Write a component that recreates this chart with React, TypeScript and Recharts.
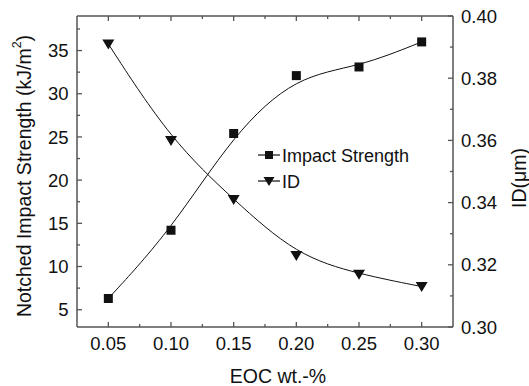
import React from "react";
import { ComposedChart, Line, XAxis, YAxis, Legend, Label } from "recharts";

// EOC content (wt.-%)
const eoc = [0.05, 0.1, 0.15, 0.2, 0.25, 0.3];
// notched impact strength (kJ/m2)
const impactStrength = [6.3, 14.2, 25.4, 32.1, 33.1, 36.0];
// ID (um)
const idMicron = [0.391, 0.36, 0.341, 0.323, 0.317, 0.313];

const xTicks = [0.05, 0.075, 0.1, 0.125, 0.15, 0.175, 0.2, 0.225, 0.25, 0.275, 0.3];
const xMajor = [0.05, 0.1, 0.15, 0.2, 0.25, 0.3];
const leftTicks = [5, 7.5, 10, 12.5, 15, 17.5, 20, 22.5, 25, 27.5, 30, 32.5, 35, 37.5];
const leftMajor = [5, 10, 15, 20, 25, 30, 35];
const rightTicks = [0.3, 0.31, 0.32, 0.33, 0.34, 0.35, 0.36, 0.37, 0.38, 0.39, 0.4];
const rightMajor = [0.3, 0.32, 0.34, 0.36, 0.38, 0.4];

const data = eoc.map((x, i) => ({
  eoc: x,
  impact: impactStrength[i],
  id: idMicron[i],
}));

const FONT = "'Liberation Sans', Arial, Helvetica, sans-serif";
const AXIS = "#555";
const INK = "#111";

const isMajor = (v: number, majors: number[]) =>
  majors.some((m) => Math.abs(m - v) < 1e-9);

const BottomTick = (props: any) => {
  const { x, y, payload } = props;
  const major = isMajor(payload.value, xMajor);
  return (
    <g>
      <line x1={x} x2={x} y1={y} y2={y - (major ? 5 : 3)} stroke={AXIS} strokeWidth={1.3} />
      {major && (
        <text x={x} y={y + 23} textAnchor="middle" fontSize={18.5} fontFamily={FONT} fill={INK}>
          {payload.value.toFixed(2)}
        </text>
      )}
    </g>
  );
};

const TopTick = (props: any) => {
  const { x, y, payload } = props;
  const major = isMajor(payload.value, xMajor);
  return <line x1={x} x2={x} y1={y} y2={y + (major ? 5 : 3)} stroke={AXIS} strokeWidth={1.3} />;
};

const LeftTick = (props: any) => {
  const { x, y, payload } = props;
  const major = isMajor(payload.value, leftMajor);
  return (
    <g>
      <line x1={x} x2={x + (major ? 5 : 3)} y1={y} y2={y} stroke={AXIS} strokeWidth={1.3} />
      {major && (
        <text x={x - 8.5} y={y + 6.6} textAnchor="end" fontSize={18.5} fontFamily={FONT} fill={INK}>
          {payload.value}
        </text>
      )}
    </g>
  );
};

const RightTick = (props: any) => {
  const { x, y, payload } = props;
  const major = isMajor(payload.value, rightMajor);
  return (
    <g>
      <line x1={x} x2={x - (major ? 5 : 3)} y1={y} y2={y} stroke={AXIS} strokeWidth={1.3} />
      {major && (
        <text x={x + 8} y={y + 6.6} textAnchor="start" fontSize={18.5} fontFamily={FONT} fill={INK}>
          {payload.value.toFixed(2)}
        </text>
      )}
    </g>
  );
};

const squareDot = (props: any) => {
  const { cx, cy, index } = props;
  return <rect key={`sq-${index}`} x={cx - 4.5} y={cy - 4.5} width={9} height={9} fill={INK} />;
};

const triangleDot = (props: any) => {
  const { cx, cy, index } = props;
  return (
    <polygon
      key={`tr-${index}`}
      points={`${cx - 6},${cy - 4.5} ${cx + 6},${cy - 4.5} ${cx},${cy + 5.5}`}
      fill={INK}
    />
  );
};

const LegendBox = () => (
  <svg width={190} height={56} style={{ display: "block" }}>
    <g>
      <line x1={2} x2={24} y1={12} y2={12} stroke={INK} strokeWidth={1.2} />
      <rect x={9} y={8} width={8} height={8} fill={INK} />
      <text x={26} y={18.5} fontSize={18} fontFamily={FONT} fill={INK}>
        Impact Strength
      </text>
    </g>
    <g>
      <line x1={2} x2={24} y1={38} y2={38} stroke={INK} strokeWidth={1.2} />
      <polygon points="7.5,34 18.5,34 13,43" fill={INK} />
      <text x={26} y={44.5} fontSize={18} fontFamily={FONT} fill={INK}>
        ID
      </text>
    </g>
  </svg>
);

export default function App() {
  return (
    <div style={{ position: "absolute", left: 0, top: 0 }}>
      <ComposedChart
        width={529}
        height={386}
        data={data}
        margin={{ top: 15, right: 0, bottom: 0, left: 0 }}
      >
        <XAxis
          xAxisId="bottom"
          dataKey="eoc"
          type="number"
          domain={[0.025, 0.325]}
          ticks={xTicks}
          interval={0}
          height={59}
          stroke={AXIS}
          strokeWidth={1.5}
          tickLine={false}
          tickSize={0}
          tickMargin={0}
          tick={<BottomTick />}
        >
          <Label
            content={() => (
              <text x={278} y={383} textAnchor="middle" fontSize={19.5} fontFamily={FONT} fill={INK}>
                EOC wt.-%
              </text>
            )}
          />
        </XAxis>
        <XAxis
          xAxisId="top"
          orientation="top"
          dataKey="eoc"
          type="number"
          domain={[0.025, 0.325]}
          ticks={xTicks}
          interval={0}
          height={1}
          stroke={AXIS}
          strokeWidth={1.5}
          tickLine={false}
          tickSize={0}
          tickMargin={0}
          tick={<TopTick />}
        />
        <YAxis
          yAxisId="left"
          type="number"
          domain={[3, 39]}
          ticks={leftTicks}
          interval={0}
          width={77}
          stroke={AXIS}
          strokeWidth={1.5}
          tickLine={false}
          tickSize={0}
          tickMargin={0}
          tick={<LeftTick />}
        >
          <Label
            content={() => (
              <text
                x={24}
                y={176}
                transform="rotate(-90 24 176)"
                textAnchor="middle"
                dominantBaseline="central"
                fontSize={19.5}
                fontFamily={FONT}
                fill={INK}
              >
                Notched Impact Strength  (kJ/m
                <tspan fontSize={12.5} dy={-7}>2</tspan>
                <tspan dy={7}>)</tspan>
              </text>
            )}
          />
        </YAxis>
        <YAxis
          yAxisId="right"
          orientation="right"
          type="number"
          domain={[0.3, 0.4]}
          ticks={rightTicks}
          interval={0}
          width={76}
          stroke={AXIS}
          strokeWidth={1.5}
          tickLine={false}
          tickSize={0}
          tickMargin={0}
          tick={<RightTick />}
        >
          <Label
            content={() => (
              <text
                x={519}
                y={178}
                transform="rotate(-90 519 178)"
                textAnchor="middle"
                dominantBaseline="central"
                fontSize={19.5}
                fontFamily={FONT}
                fill={INK}
              >
                ID(μm)
              </text>
            )}
          />
        </YAxis>
        <Legend
          layout="vertical"
          align="center"
          verticalAlign="middle"
          content={() => <LegendBox />}
          wrapperStyle={{ left: 256, top: 143, width: 190, height: 56 }}
        />
        <Line
          xAxisId="bottom"
          yAxisId="left"
          dataKey="impact"
          name="Impact Strength"
          type="basis"
          stroke={INK}
          strokeWidth={1}
          dot={squareDot}
          activeDot={false}
          isAnimationActive={false}
        />
        <Line
          xAxisId="bottom"
          yAxisId="right"
          dataKey="id"
          name="ID"
          type="basis"
          stroke={INK}
          strokeWidth={1}
          dot={triangleDot}
          activeDot={false}
          isAnimationActive={false}
        />
      </ComposedChart>
    </div>
  );
}
